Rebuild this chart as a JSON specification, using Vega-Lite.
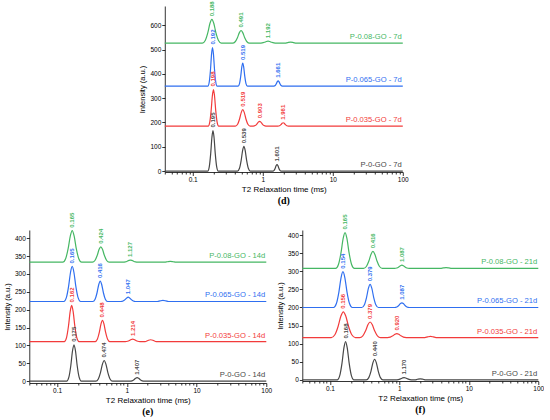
{
  "$schema": "https://vega.github.io/schema/vega-lite/v6.json",
  "padding": {"left": 3, "top": 1, "right": 0, "bottom": 0},
  "center": true,
  "spacing": 6,
  "config": {
    "view": {"stroke": null},
    "font": "Liberation Sans",
    "axis": {"grid": false, "domainColor": "#000", "tickColor": "#000", "labelColor": "#000", "titleColor": "#000", "labelFontSize": 6.5, "titleFontSize": 8, "titleFontWeight": "normal", "domainWidth": 0.8, "tickWidth": 0.8, "labelPadding": 1},
    "title": {"font": "Liberation Serif", "fontSize": 10, "fontWeight": "bold", "color": "#000"}
  },
  "datasets": {
    "d": [
      {"s": "P-0.08-GO", "x": 0.04, "y": 527},
      {"s": "P-0.08-GO", "x": 0.1378, "y": 527}, {"s": "P-0.08-GO", "x": 0.1512, "y": 537.8}, {"s": "P-0.08-GO", "x": 0.1643, "y": 569.1}, {"s": "P-0.08-GO", "x": 0.1767, "y": 608.8}, {"s": "P-0.08-GO", "x": 0.188, "y": 625}, {"s": "P-0.08-GO", "x": 0.2001, "y": 608.8}, {"s": "P-0.08-GO", "x": 0.2151, "y": 569.1}, {"s": "P-0.08-GO", "x": 0.2337, "y": 537.8}, {"s": "P-0.08-GO", "x": 0.2565, "y": 527},
      {"s": "P-0.08-GO", "x": 0.3725, "y": 527}, {"s": "P-0.08-GO", "x": 0.4046, "y": 532.7}, {"s": "P-0.08-GO", "x": 0.4356, "y": 549.4}, {"s": "P-0.08-GO", "x": 0.4646, "y": 570.4}, {"s": "P-0.08-GO", "x": 0.491, "y": 579}, {"s": "P-0.08-GO", "x": 0.5189, "y": 570.4}, {"s": "P-0.08-GO", "x": 0.5535, "y": 549.4}, {"s": "P-0.08-GO", "x": 0.5958, "y": 532.7}, {"s": "P-0.08-GO", "x": 0.6473, "y": 527},
      {"s": "P-0.08-GO", "x": 0.9043, "y": 527}, {"s": "P-0.08-GO", "x": 0.9823, "y": 527.9}, {"s": "P-0.08-GO", "x": 1.0575, "y": 530.4}, {"s": "P-0.08-GO", "x": 1.1279, "y": 533.7}, {"s": "P-0.08-GO", "x": 1.192, "y": 535}, {"s": "P-0.08-GO", "x": 1.2597, "y": 533.7}, {"s": "P-0.08-GO", "x": 1.3436, "y": 530.4}, {"s": "P-0.08-GO", "x": 1.4464, "y": 527.9}, {"s": "P-0.08-GO", "x": 1.5714, "y": 527},
      {"s": "P-0.08-GO", "x": 2.0795, "y": 527}, {"s": "P-0.08-GO", "x": 2.28, "y": 529.4}, {"s": "P-0.08-GO", "x": 2.5, "y": 531}, {"s": "P-0.08-GO", "x": 2.7413, "y": 529.4}, {"s": "P-0.08-GO", "x": 3.0058, "y": 527},
      {"s": "P-0.08-GO", "x": 100, "y": 527},

      {"s": "P-0.065-GO", "x": 0.04, "y": 350},
      {"s": "P-0.065-GO", "x": 0.1649, "y": 350}, {"s": "P-0.065-GO", "x": 0.1726, "y": 367.5}, {"s": "P-0.065-GO", "x": 0.1798, "y": 418.4}, {"s": "P-0.065-GO", "x": 0.1862, "y": 482.8}, {"s": "P-0.065-GO", "x": 0.192, "y": 509}, {"s": "P-0.065-GO", "x": 0.1979, "y": 482.8}, {"s": "P-0.065-GO", "x": 0.2051, "y": 418.4}, {"s": "P-0.065-GO", "x": 0.2135, "y": 367.5}, {"s": "P-0.065-GO", "x": 0.2235, "y": 350},
      {"s": "P-0.065-GO", "x": 0.4458, "y": 350}, {"s": "P-0.065-GO", "x": 0.4666, "y": 360.5}, {"s": "P-0.065-GO", "x": 0.4859, "y": 390.9}, {"s": "P-0.065-GO", "x": 0.5034, "y": 429.3}, {"s": "P-0.065-GO", "x": 0.519, "y": 445}, {"s": "P-0.065-GO", "x": 0.535, "y": 429.3}, {"s": "P-0.065-GO", "x": 0.5543, "y": 390.9}, {"s": "P-0.065-GO", "x": 0.5772, "y": 360.5}, {"s": "P-0.065-GO", "x": 0.6042, "y": 350},
      {"s": "P-0.065-GO", "x": 1.4466, "y": 350}, {"s": "P-0.065-GO", "x": 1.508, "y": 352.4}, {"s": "P-0.065-GO", "x": 1.5645, "y": 359.5}, {"s": "P-0.065-GO", "x": 1.6158, "y": 368.4}, {"s": "P-0.065-GO", "x": 1.661, "y": 372}, {"s": "P-0.065-GO", "x": 1.7075, "y": 368.4}, {"s": "P-0.065-GO", "x": 1.7635, "y": 359.5}, {"s": "P-0.065-GO", "x": 1.8296, "y": 352.4}, {"s": "P-0.065-GO", "x": 1.9072, "y": 350},
      {"s": "P-0.065-GO", "x": 100, "y": 350},

      {"s": "P-0.035-GO", "x": 0.04, "y": 185},
      {"s": "P-0.035-GO", "x": 0.1666, "y": 185}, {"s": "P-0.035-GO", "x": 0.1755, "y": 201.6}, {"s": "P-0.035-GO", "x": 0.1837, "y": 249.9}, {"s": "P-0.035-GO", "x": 0.1913, "y": 311.1}, {"s": "P-0.035-GO", "x": 0.198, "y": 336}, {"s": "P-0.035-GO", "x": 0.2049, "y": 311.1}, {"s": "P-0.035-GO", "x": 0.2134, "y": 249.9}, {"s": "P-0.035-GO", "x": 0.2234, "y": 201.6}, {"s": "P-0.035-GO", "x": 0.2353, "y": 185},
      {"s": "P-0.035-GO", "x": 0.4075, "y": 185}, {"s": "P-0.035-GO", "x": 0.4382, "y": 192.5}, {"s": "P-0.035-GO", "x": 0.4674, "y": 214.2}, {"s": "P-0.035-GO", "x": 0.4945, "y": 241.8}, {"s": "P-0.035-GO", "x": 0.519, "y": 253}, {"s": "P-0.035-GO", "x": 0.5447, "y": 241.8}, {"s": "P-0.035-GO", "x": 0.5763, "y": 214.2}, {"s": "P-0.035-GO", "x": 0.6147, "y": 192.5}, {"s": "P-0.035-GO", "x": 0.6609, "y": 185},
      {"s": "P-0.035-GO", "x": 0.734, "y": 185}, {"s": "P-0.035-GO", "x": 0.7811, "y": 187.2}, {"s": "P-0.035-GO", "x": 0.8254, "y": 193.6}, {"s": "P-0.035-GO", "x": 0.8663, "y": 201.7}, {"s": "P-0.035-GO", "x": 0.903, "y": 205}, {"s": "P-0.035-GO", "x": 0.9412, "y": 201.7}, {"s": "P-0.035-GO", "x": 0.9879, "y": 193.6}, {"s": "P-0.035-GO", "x": 1.044, "y": 187.2}, {"s": "P-0.035-GO", "x": 1.111, "y": 185},
      {"s": "P-0.035-GO", "x": 1.65, "y": 185}, {"s": "P-0.035-GO", "x": 1.7378, "y": 186.5}, {"s": "P-0.035-GO", "x": 1.8194, "y": 191}, {"s": "P-0.035-GO", "x": 1.8945, "y": 196.7}, {"s": "P-0.035-GO", "x": 1.961, "y": 199}, {"s": "P-0.035-GO", "x": 2.0298, "y": 196.7}, {"s": "P-0.035-GO", "x": 2.1135, "y": 191}, {"s": "P-0.035-GO", "x": 2.213, "y": 186.5}, {"s": "P-0.035-GO", "x": 2.3306, "y": 185},
      {"s": "P-0.035-GO", "x": 100, "y": 185},

      {"s": "P-0-GO", "x": 0.04, "y": 0},
      {"s": "P-0-GO", "x": 0.1641, "y": 0}, {"s": "P-0-GO", "x": 0.1728, "y": 18.4}, {"s": "P-0-GO", "x": 0.1809, "y": 71.8}, {"s": "P-0-GO", "x": 0.1884, "y": 139.4}, {"s": "P-0-GO", "x": 0.195, "y": 167}, {"s": "P-0-GO", "x": 0.2018, "y": 139.4}, {"s": "P-0-GO", "x": 0.2102, "y": 71.8}, {"s": "P-0-GO", "x": 0.2201, "y": 18.4}, {"s": "P-0-GO", "x": 0.2318, "y": 0},
      {"s": "P-0-GO", "x": 0.4381, "y": 0}, {"s": "P-0-GO", "x": 0.4662, "y": 11.2}, {"s": "P-0-GO", "x": 0.4927, "y": 43.9}, {"s": "P-0-GO", "x": 0.5171, "y": 85.2}, {"s": "P-0-GO", "x": 0.539, "y": 102}, {"s": "P-0-GO", "x": 0.5618, "y": 85.2}, {"s": "P-0-GO", "x": 0.5897, "y": 43.9}, {"s": "P-0-GO", "x": 0.6231, "y": 11.2}, {"s": "P-0-GO", "x": 0.6631, "y": 0},
      {"s": "P-0-GO", "x": 1.3943, "y": 0}, {"s": "P-0-GO", "x": 1.4535, "y": 3}, {"s": "P-0-GO", "x": 1.508, "y": 11.6}, {"s": "P-0-GO", "x": 1.5575, "y": 22.5}, {"s": "P-0-GO", "x": 1.601, "y": 27}, {"s": "P-0-GO", "x": 1.6458, "y": 22.5}, {"s": "P-0-GO", "x": 1.6998, "y": 11.6}, {"s": "P-0-GO", "x": 1.7635, "y": 3}, {"s": "P-0-GO", "x": 1.8383, "y": 0},
      {"s": "P-0-GO", "x": 100, "y": 0}
    ],
    "dPeak": [
      {"s": "P-0.08-GO", "x": 0.188, "y": 625, "t": "0.188"}, {"s": "P-0.08-GO", "x": 0.491, "y": 579, "t": "0.491"}, {"s": "P-0.08-GO", "x": 1.192, "y": 535, "t": "1.192"},
      {"s": "P-0.065-GO", "x": 0.192, "y": 509, "t": "0.192"}, {"s": "P-0.065-GO", "x": 0.519, "y": 445, "t": "0.519"}, {"s": "P-0.065-GO", "x": 1.661, "y": 372, "t": "1.661"},
      {"s": "P-0.035-GO", "x": 0.198, "y": 336, "t": "0.198"}, {"s": "P-0.035-GO", "x": 0.519, "y": 253, "t": "0.519"}, {"s": "P-0.035-GO", "x": 0.903, "y": 205, "t": "0.903"}, {"s": "P-0.035-GO", "x": 1.961, "y": 199, "t": "1.961"},
      {"s": "P-0-GO", "x": 0.195, "y": 167, "t": "0.195"}, {"s": "P-0-GO", "x": 0.539, "y": 102, "t": "0.539"}, {"s": "P-0-GO", "x": 1.601, "y": 27, "t": "1.601"}
    ],
    "dName": [
      {"s": "P-0.08-GO", "x": 100, "y": 527, "t": "P-0.08-GO - 7d"},
      {"s": "P-0.065-GO", "x": 100, "y": 350, "t": "P-0.065-GO - 7d"},
      {"s": "P-0.035-GO", "x": 100, "y": 185, "t": "P-0.035-GO - 7d"},
      {"s": "P-0-GO", "x": 100, "y": 0, "t": "P-0-GO - 7d"}
    ],
    "e": [
      {"s": "P-0.08-GO", "x": 0.04, "y": 333},
      {"s": "P-0.08-GO", "x": 0.1209, "y": 333}, {"s": "P-0.08-GO", "x": 0.1327, "y": 342.7}, {"s": "P-0.08-GO", "x": 0.1442, "y": 370.8}, {"s": "P-0.08-GO", "x": 0.1551, "y": 406.5}, {"s": "P-0.08-GO", "x": 0.165, "y": 421}, {"s": "P-0.08-GO", "x": 0.1756, "y": 406.5}, {"s": "P-0.08-GO", "x": 0.1888, "y": 370.8}, {"s": "P-0.08-GO", "x": 0.2051, "y": 342.7}, {"s": "P-0.08-GO", "x": 0.2252, "y": 333},
      {"s": "P-0.08-GO", "x": 0.3216, "y": 333}, {"s": "P-0.08-GO", "x": 0.3494, "y": 337.7}, {"s": "P-0.08-GO", "x": 0.3762, "y": 351.5}, {"s": "P-0.08-GO", "x": 0.4012, "y": 368.9}, {"s": "P-0.08-GO", "x": 0.424, "y": 376}, {"s": "P-0.08-GO", "x": 0.4481, "y": 368.9}, {"s": "P-0.08-GO", "x": 0.4779, "y": 351.5}, {"s": "P-0.08-GO", "x": 0.5145, "y": 337.7}, {"s": "P-0.08-GO", "x": 0.559, "y": 333},
      {"s": "P-0.08-GO", "x": 0.8849, "y": 333}, {"s": "P-0.08-GO", "x": 0.9515, "y": 333.7}, {"s": "P-0.08-GO", "x": 1.015, "y": 335.6}, {"s": "P-0.08-GO", "x": 1.0738, "y": 338}, {"s": "P-0.08-GO", "x": 1.127, "y": 339}, {"s": "P-0.08-GO", "x": 1.1828, "y": 338}, {"s": "P-0.08-GO", "x": 1.2514, "y": 335.6}, {"s": "P-0.08-GO", "x": 1.3348, "y": 333.7}, {"s": "P-0.08-GO", "x": 1.4352, "y": 333},
      {"s": "P-0.08-GO", "x": 3.4936, "y": 333}, {"s": "P-0.08-GO", "x": 3.8304, "y": 334.2}, {"s": "P-0.08-GO", "x": 4.2, "y": 335}, {"s": "P-0.08-GO", "x": 4.6053, "y": 334.2}, {"s": "P-0.08-GO", "x": 5.0497, "y": 333},
      {"s": "P-0.08-GO", "x": 100, "y": 333},

      {"s": "P-0.065-GO", "x": 0.04, "y": 223},
      {"s": "P-0.065-GO", "x": 0.1252, "y": 223}, {"s": "P-0.065-GO", "x": 0.136, "y": 233.8}, {"s": "P-0.065-GO", "x": 0.1464, "y": 265.1}, {"s": "P-0.065-GO", "x": 0.1561, "y": 304.8}, {"s": "P-0.065-GO", "x": 0.165, "y": 321}, {"s": "P-0.065-GO", "x": 0.1744, "y": 304.8}, {"s": "P-0.065-GO", "x": 0.186, "y": 265.1}, {"s": "P-0.065-GO", "x": 0.2002, "y": 233.8}, {"s": "P-0.065-GO", "x": 0.2175, "y": 223},
      {"s": "P-0.065-GO", "x": 0.3266, "y": 223}, {"s": "P-0.065-GO", "x": 0.3512, "y": 229.3}, {"s": "P-0.065-GO", "x": 0.3746, "y": 247.5}, {"s": "P-0.065-GO", "x": 0.3964, "y": 270.6}, {"s": "P-0.065-GO", "x": 0.416, "y": 280}, {"s": "P-0.065-GO", "x": 0.4366, "y": 270.6}, {"s": "P-0.065-GO", "x": 0.4619, "y": 247.5}, {"s": "P-0.065-GO", "x": 0.4927, "y": 229.3}, {"s": "P-0.065-GO", "x": 0.5298, "y": 223},
      {"s": "P-0.065-GO", "x": 0.8221, "y": 223}, {"s": "P-0.065-GO", "x": 0.884, "y": 224.3}, {"s": "P-0.065-GO", "x": 0.9429, "y": 228.2}, {"s": "P-0.065-GO", "x": 0.9976, "y": 233}, {"s": "P-0.065-GO", "x": 1.047, "y": 235}, {"s": "P-0.065-GO", "x": 1.0988, "y": 233}, {"s": "P-0.065-GO", "x": 1.1626, "y": 228.2}, {"s": "P-0.065-GO", "x": 1.2401, "y": 224.3}, {"s": "P-0.065-GO", "x": 1.3334, "y": 223},
      {"s": "P-0.065-GO", "x": 2.7449, "y": 223}, {"s": "P-0.065-GO", "x": 3.0096, "y": 224.8}, {"s": "P-0.065-GO", "x": 3.3, "y": 226}, {"s": "P-0.065-GO", "x": 3.6185, "y": 224.8}, {"s": "P-0.065-GO", "x": 3.9676, "y": 223},
      {"s": "P-0.065-GO", "x": 100, "y": 223},

      {"s": "P-0.035-GO", "x": 0.04, "y": 111},
      {"s": "P-0.035-GO", "x": 0.1272, "y": 111}, {"s": "P-0.035-GO", "x": 0.1368, "y": 122.1}, {"s": "P-0.035-GO", "x": 0.1459, "y": 154.4}, {"s": "P-0.035-GO", "x": 0.1544, "y": 195.3}, {"s": "P-0.035-GO", "x": 0.162, "y": 212}, {"s": "P-0.035-GO", "x": 0.17, "y": 195.3}, {"s": "P-0.035-GO", "x": 0.1799, "y": 154.4}, {"s": "P-0.035-GO", "x": 0.1919, "y": 122.1}, {"s": "P-0.035-GO", "x": 0.2063, "y": 111},
      {"s": "P-0.035-GO", "x": 0.3518, "y": 111}, {"s": "P-0.035-GO", "x": 0.3782, "y": 117.5}, {"s": "P-0.035-GO", "x": 0.4035, "y": 136.4}, {"s": "P-0.035-GO", "x": 0.4269, "y": 160.3}, {"s": "P-0.035-GO", "x": 0.448, "y": 170}, {"s": "P-0.035-GO", "x": 0.4702, "y": 160.3}, {"s": "P-0.035-GO", "x": 0.4975, "y": 136.4}, {"s": "P-0.035-GO", "x": 0.5306, "y": 117.5}, {"s": "P-0.035-GO", "x": 0.5705, "y": 111},
      {"s": "P-0.035-GO", "x": 0.9532, "y": 111}, {"s": "P-0.035-GO", "x": 1.025, "y": 111.8}, {"s": "P-0.035-GO", "x": 1.0933, "y": 114}, {"s": "P-0.035-GO", "x": 1.1567, "y": 116.8}, {"s": "P-0.035-GO", "x": 1.214, "y": 118}, {"s": "P-0.035-GO", "x": 1.2741, "y": 116.8}, {"s": "P-0.035-GO", "x": 1.348, "y": 114}, {"s": "P-0.035-GO", "x": 1.4379, "y": 111.8}, {"s": "P-0.035-GO", "x": 1.546, "y": 111},
      {"s": "P-0.035-GO", "x": 1.83, "y": 111}, {"s": "P-0.035-GO", "x": 2.0064, "y": 114}, {"s": "P-0.035-GO", "x": 2.2, "y": 116}, {"s": "P-0.035-GO", "x": 2.4123, "y": 114}, {"s": "P-0.035-GO", "x": 2.6451, "y": 111},
      {"s": "P-0.035-GO", "x": 100, "y": 111},

      {"s": "P-0-GO", "x": 0.04, "y": 0},
      {"s": "P-0-GO", "x": 0.1374, "y": 0}, {"s": "P-0-GO", "x": 0.1478, "y": 11.2}, {"s": "P-0-GO", "x": 0.1576, "y": 43.9}, {"s": "P-0-GO", "x": 0.1667, "y": 85.2}, {"s": "P-0-GO", "x": 0.175, "y": 102}, {"s": "P-0-GO", "x": 0.1837, "y": 85.2}, {"s": "P-0-GO", "x": 0.1943, "y": 43.9}, {"s": "P-0-GO", "x": 0.2073, "y": 11.2}, {"s": "P-0-GO", "x": 0.2229, "y": 0},
      {"s": "P-0-GO", "x": 0.3596, "y": 0}, {"s": "P-0-GO", "x": 0.3906, "y": 6.4}, {"s": "P-0-GO", "x": 0.4205, "y": 24.9}, {"s": "P-0-GO", "x": 0.4485, "y": 48.4}, {"s": "P-0-GO", "x": 0.474, "y": 58}, {"s": "P-0-GO", "x": 0.5009, "y": 48.4}, {"s": "P-0-GO", "x": 0.5343, "y": 24.9}, {"s": "P-0-GO", "x": 0.5751, "y": 6.4}, {"s": "P-0-GO", "x": 0.6249, "y": 0},
      {"s": "P-0-GO", "x": 1.1048, "y": 0}, {"s": "P-0-GO", "x": 1.1879, "y": 1.1}, {"s": "P-0-GO", "x": 1.2671, "y": 4.3}, {"s": "P-0-GO", "x": 1.3406, "y": 8.4}, {"s": "P-0-GO", "x": 1.407, "y": 10}, {"s": "P-0-GO", "x": 1.4767, "y": 8.4}, {"s": "P-0-GO", "x": 1.5623, "y": 4.3}, {"s": "P-0-GO", "x": 1.6664, "y": 1.1}, {"s": "P-0-GO", "x": 1.7918, "y": 0},
      {"s": "P-0-GO", "x": 100, "y": 0}
    ],
    "ePeak": [
      {"s": "P-0.08-GO", "x": 0.165, "y": 421, "t": "0.165"}, {"s": "P-0.08-GO", "x": 0.424, "y": 376, "t": "0.424"}, {"s": "P-0.08-GO", "x": 1.127, "y": 339, "t": "1.127"},
      {"s": "P-0.065-GO", "x": 0.165, "y": 321, "t": "0.165"}, {"s": "P-0.065-GO", "x": 0.416, "y": 280, "t": "0.416"}, {"s": "P-0.065-GO", "x": 1.047, "y": 235, "t": "1.047"},
      {"s": "P-0.035-GO", "x": 0.162, "y": 212, "t": "0.162"}, {"s": "P-0.035-GO", "x": 0.448, "y": 170, "t": "0.448"}, {"s": "P-0.035-GO", "x": 1.214, "y": 118, "t": "1.214"},
      {"s": "P-0-GO", "x": 0.175, "y": 102, "t": "0.175"}, {"s": "P-0-GO", "x": 0.474, "y": 58, "t": "0.474"}, {"s": "P-0-GO", "x": 1.407, "y": 10, "t": "1.407"}
    ],
    "eName": [
      {"s": "P-0.08-GO", "x": 100, "y": 333, "t": "P-0.08-GO - 14d"},
      {"s": "P-0.065-GO", "x": 100, "y": 223, "t": "P-0.065-GO - 14d"},
      {"s": "P-0.035-GO", "x": 100, "y": 111, "t": "P-0.035-GO - 14d"},
      {"s": "P-0-GO", "x": 100, "y": 0, "t": "P-0-GO - 14d"}
    ],
    "f": [
      {"s": "P-0.08-GO", "x": 0.04, "y": 308},
      {"s": "P-0.08-GO", "x": 0.1209, "y": 308}, {"s": "P-0.08-GO", "x": 0.1327, "y": 318.9}, {"s": "P-0.08-GO", "x": 0.1442, "y": 350.6}, {"s": "P-0.08-GO", "x": 0.1551, "y": 390.7}, {"s": "P-0.08-GO", "x": 0.165, "y": 407}, {"s": "P-0.08-GO", "x": 0.1756, "y": 390.7}, {"s": "P-0.08-GO", "x": 0.1888, "y": 350.6}, {"s": "P-0.08-GO", "x": 0.2051, "y": 318.9}, {"s": "P-0.08-GO", "x": 0.2252, "y": 308},
      {"s": "P-0.08-GO", "x": 0.3048, "y": 308}, {"s": "P-0.08-GO", "x": 0.3347, "y": 313.2}, {"s": "P-0.08-GO", "x": 0.3636, "y": 328.2}, {"s": "P-0.08-GO", "x": 0.3909, "y": 347.2}, {"s": "P-0.08-GO", "x": 0.416, "y": 355}, {"s": "P-0.08-GO", "x": 0.4427, "y": 347.2}, {"s": "P-0.08-GO", "x": 0.476, "y": 328.2}, {"s": "P-0.08-GO", "x": 0.5171, "y": 313.2}, {"s": "P-0.08-GO", "x": 0.5677, "y": 308},
      {"s": "P-0.08-GO", "x": 0.8535, "y": 308}, {"s": "P-0.08-GO", "x": 0.9178, "y": 309}, {"s": "P-0.08-GO", "x": 0.979, "y": 311.9}, {"s": "P-0.08-GO", "x": 1.0357, "y": 315.5}, {"s": "P-0.08-GO", "x": 1.087, "y": 317}, {"s": "P-0.08-GO", "x": 1.1408, "y": 315.5}, {"s": "P-0.08-GO", "x": 1.207, "y": 311.9}, {"s": "P-0.08-GO", "x": 1.2874, "y": 309}, {"s": "P-0.08-GO", "x": 1.3843, "y": 308},
      {"s": "P-0.08-GO", "x": 3.9095, "y": 308}, {"s": "P-0.08-GO", "x": 4.2864, "y": 309.2}, {"s": "P-0.08-GO", "x": 4.7, "y": 310}, {"s": "P-0.08-GO", "x": 5.1536, "y": 309.2}, {"s": "P-0.08-GO", "x": 5.6508, "y": 308},
      {"s": "P-0.08-GO", "x": 100, "y": 308},

      {"s": "P-0.065-GO", "x": 0.04, "y": 200},
      {"s": "P-0.065-GO", "x": 0.1129, "y": 200}, {"s": "P-0.065-GO", "x": 0.1239, "y": 210.9}, {"s": "P-0.065-GO", "x": 0.1346, "y": 242.6}, {"s": "P-0.065-GO", "x": 0.1447, "y": 282.7}, {"s": "P-0.065-GO", "x": 0.154, "y": 299}, {"s": "P-0.065-GO", "x": 0.1639, "y": 282.7}, {"s": "P-0.065-GO", "x": 0.1762, "y": 242.6}, {"s": "P-0.065-GO", "x": 0.1914, "y": 210.9}, {"s": "P-0.065-GO", "x": 0.2101, "y": 200},
      {"s": "P-0.065-GO", "x": 0.2875, "y": 200}, {"s": "P-0.065-GO", "x": 0.3123, "y": 207}, {"s": "P-0.065-GO", "x": 0.3363, "y": 227.5}, {"s": "P-0.065-GO", "x": 0.3586, "y": 253.4}, {"s": "P-0.065-GO", "x": 0.379, "y": 264}, {"s": "P-0.065-GO", "x": 0.4005, "y": 253.4}, {"s": "P-0.065-GO", "x": 0.4272, "y": 227.5}, {"s": "P-0.065-GO", "x": 0.4599, "y": 207}, {"s": "P-0.065-GO", "x": 0.4996, "y": 200},
      {"s": "P-0.065-GO", "x": 0.8535, "y": 200}, {"s": "P-0.065-GO", "x": 0.9178, "y": 201.4}, {"s": "P-0.065-GO", "x": 0.979, "y": 205.6}, {"s": "P-0.065-GO", "x": 1.0357, "y": 210.9}, {"s": "P-0.065-GO", "x": 1.087, "y": 213}, {"s": "P-0.065-GO", "x": 1.1408, "y": 210.9}, {"s": "P-0.065-GO", "x": 1.207, "y": 205.6}, {"s": "P-0.065-GO", "x": 1.2874, "y": 201.4}, {"s": "P-0.065-GO", "x": 1.3843, "y": 200},
      {"s": "P-0.065-GO", "x": 100, "y": 200},

      {"s": "P-0.035-GO", "x": 0.04, "y": 117},
      {"s": "P-0.035-GO", "x": 0.1045, "y": 117}, {"s": "P-0.035-GO", "x": 0.1178, "y": 124.8}, {"s": "P-0.035-GO", "x": 0.1311, "y": 147.5}, {"s": "P-0.035-GO", "x": 0.144, "y": 176.3}, {"s": "P-0.035-GO", "x": 0.156, "y": 188}, {"s": "P-0.035-GO", "x": 0.169, "y": 176.3}, {"s": "P-0.035-GO", "x": 0.1856, "y": 147.5}, {"s": "P-0.035-GO", "x": 0.2065, "y": 124.8}, {"s": "P-0.035-GO", "x": 0.2329, "y": 117},
      {"s": "P-0.035-GO", "x": 0.2683, "y": 117}, {"s": "P-0.035-GO", "x": 0.2976, "y": 121.7}, {"s": "P-0.035-GO", "x": 0.3263, "y": 135.5}, {"s": "P-0.035-GO", "x": 0.3537, "y": 152.9}, {"s": "P-0.035-GO", "x": 0.379, "y": 160}, {"s": "P-0.035-GO", "x": 0.4061, "y": 152.9}, {"s": "P-0.035-GO", "x": 0.4402, "y": 135.5}, {"s": "P-0.035-GO", "x": 0.4827, "y": 121.7}, {"s": "P-0.035-GO", "x": 0.5353, "y": 117},
      {"s": "P-0.035-GO", "x": 0.6742, "y": 117}, {"s": "P-0.035-GO", "x": 0.7401, "y": 118.2}, {"s": "P-0.035-GO", "x": 0.8041, "y": 121.7}, {"s": "P-0.035-GO", "x": 0.8645, "y": 126.2}, {"s": "P-0.035-GO", "x": 0.92, "y": 128}, {"s": "P-0.035-GO", "x": 0.979, "y": 126.2}, {"s": "P-0.035-GO", "x": 1.0527, "y": 121.7}, {"s": "P-0.035-GO", "x": 1.1437, "y": 118.2}, {"s": "P-0.035-GO", "x": 1.2554, "y": 117},
      {"s": "P-0.035-GO", "x": 2.329, "y": 117}, {"s": "P-0.035-GO", "x": 2.5536, "y": 118.8}, {"s": "P-0.035-GO", "x": 2.8, "y": 120}, {"s": "P-0.035-GO", "x": 3.0702, "y": 118.8}, {"s": "P-0.035-GO", "x": 3.3665, "y": 117},
      {"s": "P-0.035-GO", "x": 100, "y": 117},

      {"s": "P-0-GO", "x": 0.04, "y": 0},
      {"s": "P-0-GO", "x": 0.1274, "y": 0}, {"s": "P-0-GO", "x": 0.1384, "y": 11.7}, {"s": "P-0-GO", "x": 0.1491, "y": 45.6}, {"s": "P-0-GO", "x": 0.159, "y": 88.5}, {"s": "P-0-GO", "x": 0.168, "y": 106}, {"s": "P-0-GO", "x": 0.1775, "y": 88.5}, {"s": "P-0-GO", "x": 0.1894, "y": 45.6}, {"s": "P-0-GO", "x": 0.2039, "y": 11.7}, {"s": "P-0-GO", "x": 0.2215, "y": 0},
      {"s": "P-0-GO", "x": 0.3338, "y": 0}, {"s": "P-0-GO", "x": 0.3626, "y": 6.3}, {"s": "P-0-GO", "x": 0.3904, "y": 24.5}, {"s": "P-0-GO", "x": 0.4163, "y": 47.6}, {"s": "P-0-GO", "x": 0.44, "y": 57}, {"s": "P-0-GO", "x": 0.465, "y": 47.6}, {"s": "P-0-GO", "x": 0.496, "y": 24.5}, {"s": "P-0-GO", "x": 0.5339, "y": 6.3}, {"s": "P-0-GO", "x": 0.5801, "y": 0},
      {"s": "P-0-GO", "x": 0.8876, "y": 0}, {"s": "P-0-GO", "x": 0.9642, "y": 0.7}, {"s": "P-0-GO", "x": 1.038, "y": 2.8}, {"s": "P-0-GO", "x": 1.1071, "y": 5.4}, {"s": "P-0-GO", "x": 1.17, "y": 6.5}, {"s": "P-0-GO", "x": 1.2365, "y": 5.4}, {"s": "P-0-GO", "x": 1.3188, "y": 2.8}, {"s": "P-0-GO", "x": 1.4197, "y": 0.7}, {"s": "P-0-GO", "x": 1.5424, "y": 0},
      {"s": "P-0-GO", "x": 1.6636, "y": 0}, {"s": "P-0-GO", "x": 1.824, "y": 1.8}, {"s": "P-0-GO", "x": 2.0, "y": 3}, {"s": "P-0-GO", "x": 2.193, "y": 1.8}, {"s": "P-0-GO", "x": 2.4046, "y": 0},
      {"s": "P-0-GO", "x": 100, "y": 0}
    ],
    "fPeak": [
      {"s": "P-0.08-GO", "x": 0.165, "y": 407, "t": "0.165"}, {"s": "P-0.08-GO", "x": 0.416, "y": 355, "t": "0.416"}, {"s": "P-0.08-GO", "x": 1.087, "y": 317, "t": "1.087"},
      {"s": "P-0.065-GO", "x": 0.154, "y": 299, "t": "0.154"}, {"s": "P-0.065-GO", "x": 0.379, "y": 264, "t": "0.379"}, {"s": "P-0.065-GO", "x": 1.087, "y": 213, "t": "1.087"},
      {"s": "P-0.035-GO", "x": 0.156, "y": 188, "t": "0.156"}, {"s": "P-0.035-GO", "x": 0.379, "y": 160, "t": "0.379"}, {"s": "P-0.035-GO", "x": 0.92, "y": 128, "t": "0.920"},
      {"s": "P-0-GO", "x": 0.168, "y": 106, "t": "0.168"}, {"s": "P-0-GO", "x": 0.44, "y": 57, "t": "0.440"}, {"s": "P-0-GO", "x": 1.17, "y": 6.5, "t": "1.170"}
    ],
    "fName": [
      {"s": "P-0.08-GO", "x": 100, "y": 308, "t": "P-0.08-GO - 21d"},
      {"s": "P-0.065-GO", "x": 100, "y": 200, "t": "P-0.065-GO - 21d"},
      {"s": "P-0.035-GO", "x": 100, "y": 117, "t": "P-0.035-GO - 21d"},
      {"s": "P-0-GO", "x": 100, "y": 0, "t": "P-0-GO - 21d"}
    ]
  },
  "vconcat": [
    {
      "width": 238,
      "height": 166,
      "title": {"text": "(d)", "orient": "bottom", "offset": 3},
      "encoding": {
        "x": {"field": "x", "type": "quantitative", "scale": {"type": "log", "domain": [0.04, 100], "nice": false},
          "axis": {"title": "T2 Relaxation time (ms)", "values": [0.04, 0.05, 0.06, 0.07, 0.08, 0.09, 0.1, 0.2, 0.3, 0.4, 0.5, 0.6, 0.7, 0.8, 0.9, 1, 2, 3, 4, 5, 6, 7, 8, 9, 10, 20, 30, 40, 50, 60, 70, 80, 90, 100], "format": "~g",
            "labelExpr": "(datum.value == 0.1 || datum.value == 1 || datum.value == 10 || datum.value == 100) ? datum.label : ''",
            "tickSize": {"condition": {"test": "datum.value == 0.1 || datum.value == 1 || datum.value == 10 || datum.value == 100", "value": 3.5}, "value": 2}, "labelFlush": false, "titlePadding": 2}},
        "y": {"field": "y", "type": "quantitative", "scale": {"domain": [-4, 680], "nice": false, "zero": false},
          "axis": {"title": "Intensity (a.u.)", "values": [0, 100, 200, 300, 400, 500, 600], "tickSize": 3, "titleFontSize": 7.5, "titlePadding": 3}},
        "color": {"field": "s", "type": "nominal", "legend": null, "scale": {"domain": ["P-0.08-GO", "P-0.065-GO", "P-0.035-GO", "P-0-GO"], "range": ["#45b763", "#2f6ff0", "#f23b3b", "#474747"]}}
      },
      "layer": [
        {"data": {"name": "d"}, "mark": {"type": "line", "interpolate": "monotone", "strokeWidth": 1.2}},
        {"data": {"name": "dPeak"}, "mark": {"type": "text", "angle": 270, "align": "left", "baseline": "middle", "dx": 3, "fontSize": 6, "fontWeight": "bold"}, "encoding": {"text": {"field": "t"}}},
        {"data": {"name": "dName"}, "mark": {"type": "text", "align": "right", "baseline": "bottom", "dx": -1, "dy": -2, "fontSize": 7.6}, "encoding": {"text": {"field": "t"}}}
      ]
    },
    {
      "hconcat": [
        {
          "width": 237,
          "height": 153,
          "title": {"text": "(e)", "orient": "bottom", "offset": 3},
          "encoding": {
            "x": {"field": "x", "type": "quantitative", "scale": {"type": "log", "domain": [0.04, 100], "nice": false},
              "axis": {"title": "T2 Relaxation time (ms)", "values": [0.04, 0.05, 0.06, 0.07, 0.08, 0.09, 0.1, 0.2, 0.3, 0.4, 0.5, 0.6, 0.7, 0.8, 0.9, 1, 2, 3, 4, 5, 6, 7, 8, 9, 10, 20, 30, 40, 50, 60, 70, 80, 90, 100], "format": "~g",
                "labelExpr": "(datum.value == 0.1 || datum.value == 1 || datum.value == 10 || datum.value == 100) ? datum.label : ''",
                "tickSize": {"condition": {"test": "datum.value == 0.1 || datum.value == 1 || datum.value == 10 || datum.value == 100", "value": 3.5}, "value": 2}, "labelFlush": false, "titlePadding": 2}},
            "y": {"field": "y", "type": "quantitative", "scale": {"domain": [-5, 423], "nice": false, "zero": false},
              "axis": {"title": "Intensity (a.u.)", "values": [0, 50, 100, 150, 200, 250, 300, 350, 400], "tickSize": 3, "titleFontSize": 7.5, "titlePadding": 3}},
            "color": {"field": "s", "type": "nominal", "legend": null, "scale": {"domain": ["P-0.08-GO", "P-0.065-GO", "P-0.035-GO", "P-0-GO"], "range": ["#45b763", "#2f6ff0", "#f23b3b", "#474747"]}}
          },
          "layer": [
            {"data": {"name": "e"}, "mark": {"type": "line", "interpolate": "monotone", "strokeWidth": 1.2}},
            {"data": {"name": "ePeak"}, "mark": {"type": "text", "angle": 270, "align": "left", "baseline": "middle", "dx": 3, "fontSize": 6, "fontWeight": "bold"}, "encoding": {"text": {"field": "t"}}},
            {"data": {"name": "eName"}, "mark": {"type": "text", "align": "right", "baseline": "bottom", "dx": -1, "dy": -2, "fontSize": 7.6}, "encoding": {"text": {"field": "t"}}}
          ]
        },
        {
          "width": 236,
          "height": 151,
          "title": {"text": "(f)", "orient": "bottom", "offset": 3},
          "encoding": {
            "x": {"field": "x", "type": "quantitative", "scale": {"type": "log", "domain": [0.04, 100], "nice": false},
              "axis": {"title": "T2 Relaxation time (ms)", "values": [0.04, 0.05, 0.06, 0.07, 0.08, 0.09, 0.1, 0.2, 0.3, 0.4, 0.5, 0.6, 0.7, 0.8, 0.9, 1, 2, 3, 4, 5, 6, 7, 8, 9, 10, 20, 30, 40, 50, 60, 70, 80, 90, 100], "format": "~g",
                "labelExpr": "(datum.value == 0.1 || datum.value == 1 || datum.value == 10 || datum.value == 100) ? datum.label : ''",
                "tickSize": {"condition": {"test": "datum.value == 0.1 || datum.value == 1 || datum.value == 10 || datum.value == 100", "value": 3.5}, "value": 2}, "labelFlush": false, "titlePadding": 2}},
            "y": {"field": "y", "type": "quantitative", "scale": {"domain": [-3, 414], "nice": false, "zero": false},
              "axis": {"title": "Intensity (a.u.)", "values": [0, 50, 100, 150, 200, 250, 300, 350, 400], "tickSize": 3, "titleFontSize": 7.5, "titlePadding": 3}},
            "color": {"field": "s", "type": "nominal", "legend": null, "scale": {"domain": ["P-0.08-GO", "P-0.065-GO", "P-0.035-GO", "P-0-GO"], "range": ["#45b763", "#2f6ff0", "#f23b3b", "#474747"]}}
          },
          "layer": [
            {"data": {"name": "f"}, "mark": {"type": "line", "interpolate": "monotone", "strokeWidth": 1.2}},
            {"data": {"name": "fPeak"}, "mark": {"type": "text", "angle": 270, "align": "left", "baseline": "middle", "dx": 3, "fontSize": 6, "fontWeight": "bold"}, "encoding": {"text": {"field": "t"}}},
            {"data": {"name": "fName"}, "mark": {"type": "text", "align": "right", "baseline": "bottom", "dx": -1, "dy": -2, "fontSize": 7.6}, "encoding": {"text": {"field": "t"}}}
          ]
        }
      ],
      "bounds": "flush",
      "spacing": 36
    }
  ]
}
